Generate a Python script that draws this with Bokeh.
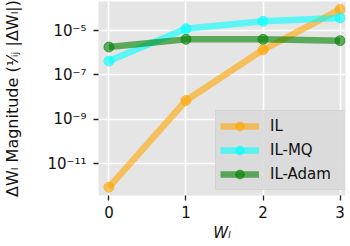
from bokeh.plotting import figure
from bokeh.models import FixedTicker, CustomJSTickFormatter, Legend, LegendItem, Range1d
from bokeh.embed import file_html
from bokeh.resources import INLINE

x_vals = [0, 1, 2, 3]
il = [8.5e-13, 7e-9, 1.35e-6, 9e-5]
il_mq = [4.2e-7, 1.2e-5, 2.6e-5, 3.7e-5]
il_adam = [1.8e-6, 4e-6, 4e-6, 3.5e-6]
series_names = ["IL", "IL-MQ", "IL-Adam"]
series_colors = ["orange", "cyan", "green"]
y_ticks = [1e-11, 1e-9, 1e-7, 1e-5]
x_ticks = [0, 1, 2, 3]
x_label = "Wₗ"
y_label = "ΔWₗ Magnitude (¹⁄ᵢⱼ |ΔWₗ|)"

p = figure(width=350, height=246, y_axis_type="log",
           x_range=Range1d(-0.135, 3.07), y_range=Range1d(10 ** -12.44, 10 ** -3.69),
           output_backend="svg", toolbar_location=None,
           min_border_left=92, min_border_right=5, min_border_top=1, min_border_bottom=51)

p.background_fill_color = "#e5e5e5"
p.border_fill_color = "white"
p.outline_line_color = None

p.xgrid.ticker = FixedTicker(ticks=x_ticks)
p.ygrid.ticker = FixedTicker(ticks=y_ticks)
for g in (p.xgrid, p.ygrid):
    g.grid_line_color = "white"
    g.grid_line_width = 1.6
    g.minor_grid_line_color = None

p.xaxis.ticker = FixedTicker(ticks=x_ticks)
p.yaxis.ticker = FixedTicker(ticks=y_ticks)
p.yaxis.formatter = CustomJSTickFormatter(code="""
const sup = {'-':'\u207b','0':'\u2070','1':'\u00b9','2':'\u00b2','3':'\u00b3','4':'\u2074','5':'\u2075','6':'\u2076','7':'\u2077','8':'\u2078','9':'\u2079'};
const e = Math.round(Math.log10(tick)).toString();
return '10' + e.split('').map(c => sup[c]).join('');
""")

for ax in (p.xaxis, p.yaxis):
    ax.axis_line_color = None
    ax.major_tick_line_color = "#222222"
    ax.major_tick_line_width = 1.3
    ax.major_tick_in = 0
    ax.major_tick_out = 5
    ax.minor_tick_line_color = None
    ax.major_label_text_font = "DejaVu Sans"
    ax.major_label_text_font_size = "15px"
    ax.major_label_text_color = "#111111"
    ax.axis_label_text_font = "DejaVu Sans"
    ax.axis_label_text_font_size = "15px"
    ax.axis_label_text_color = "#111111"

p.xaxis.major_label_standoff = 5
p.xaxis.axis_label = x_label
p.xaxis.axis_label_text_font_style = "italic"
p.xaxis.axis_label_standoff = 3
p.yaxis.major_label_standoff = 7
p.yaxis.axis_label = y_label
p.yaxis.axis_label_text_font_style = "normal"
p.yaxis.axis_label_text_font_size = "16px"
p.yaxis.axis_label_standoff = 22

items = []
for name, ys, col in zip(series_names, [il, il_mq, il_adam], series_colors):
    r1 = p.line(x_vals, ys, line_color=col, line_width=6.5, line_alpha=0.6)
    r2 = p.scatter(x_vals, ys, size=10, fill_color=col, line_color=col, fill_alpha=0.6, line_alpha=0.6)
    items.append(LegendItem(label=name, renderers=[r1, r2]))

legend = Legend(items=items, location=(117, 5))
legend.background_fill_color = "#d9d9d9"
legend.background_fill_alpha = 0.9
legend.border_line_color = "#cccccc"
legend.border_line_width = 1
legend.label_text_font = "DejaVu Sans"
legend.label_text_font_size = "15px"
legend.label_text_color = "#111111"
legend.glyph_width = 39
legend.glyph_height = 22
legend.label_height = 22
legend.label_width = 73
legend.label_standoff = 11
legend.spacing = 2
legend.padding = 4
legend.margin = 0
p.add_layout(legend, "center")

open("out.html", "w").write(file_html(p, INLINE))
